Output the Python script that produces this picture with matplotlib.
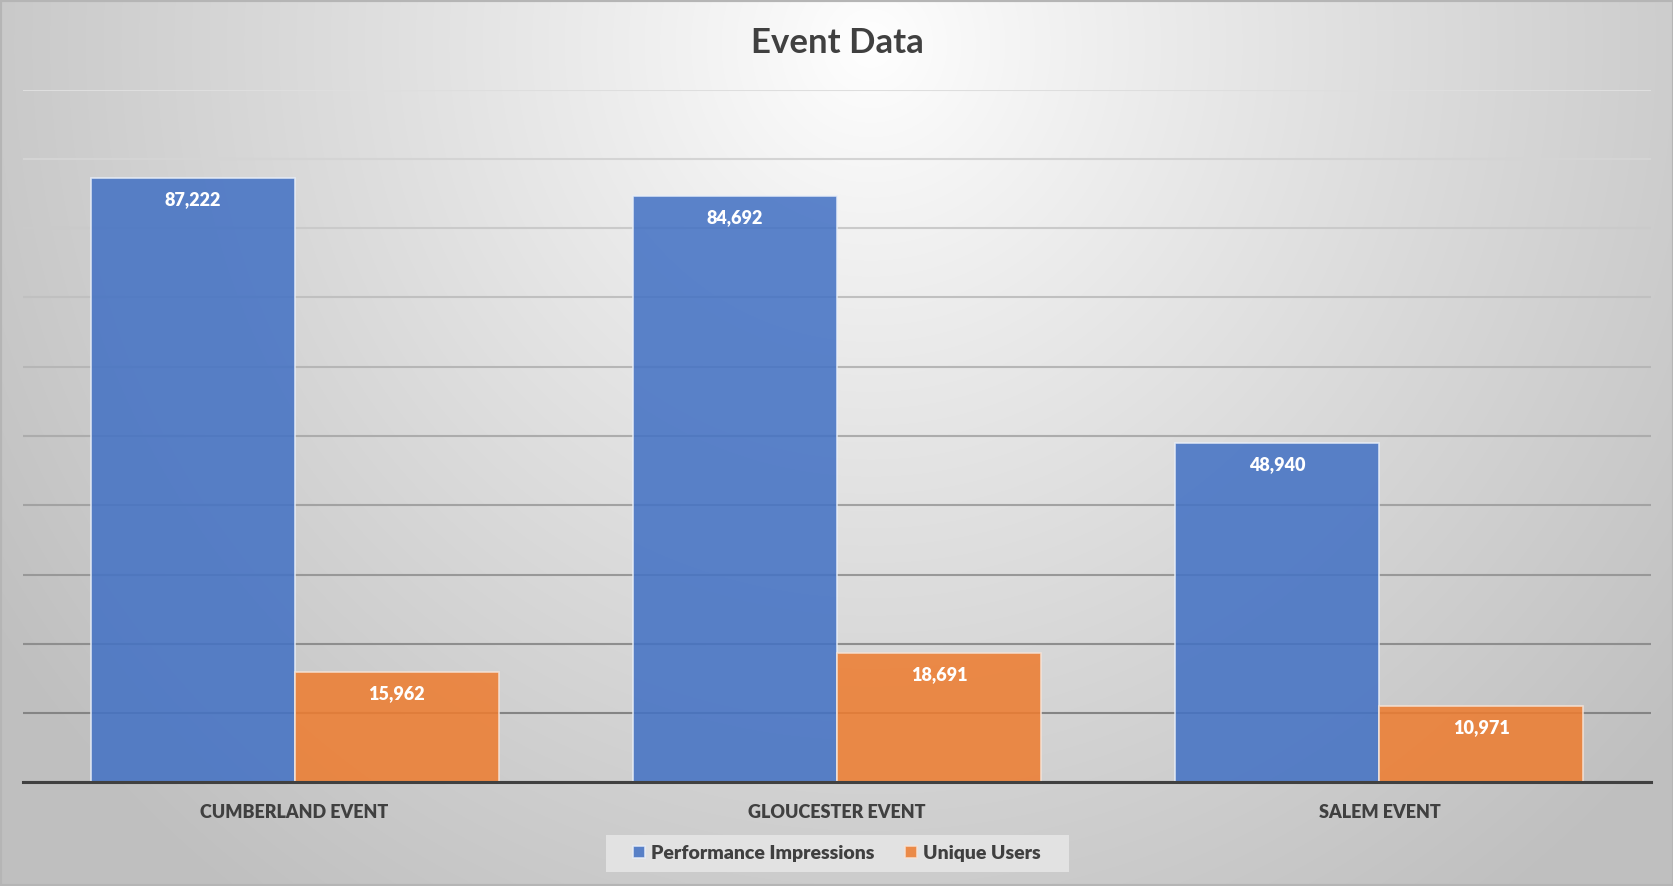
import numpy as np
import matplotlib
matplotlib.use("Agg")
import matplotlib.pyplot as plt
from matplotlib.colors import to_rgb

categories = ["CUMBERLAND EVENT", "GLOUCESTER EVENT", "SALEM EVENT"]
series_names = ["Performance Impressions", "Unique Users"]
impressions = [87222, 84692, 48940]
unique_users = [15962, 18691, 10971]
y_ticks = [0, 10000, 20000, 30000, 40000, 50000, 60000, 70000, 80000, 90000, 100000]

W, H = 1674, 886
fig = plt.figure(figsize=(W / 100, H / 100), dpi=100)
plt.rcParams['font.family'] = ['Lato', 'DejaVu Sans']

# background radial gradient
bg = fig.add_axes([0, 0, 1, 1], zorder=-10)
yy, xx = np.mgrid[0:H, 0:W]
cx, cy = W * 0.52, H * 0.05
d = np.sqrt(((xx - cx) / (W * 0.62)) ** 2 + ((yy - cy) / (H * 1.2)) ** 2)
d = np.clip(d, 0, 1) ** 0.9
c0 = np.array(to_rgb("#ffffff"))
c1 = np.array(to_rgb("#c0c0c0"))
img = c0[None, None, :] * (1 - d[..., None]) + c1[None, None, :] * d[..., None]
bg.imshow(img, aspect='auto', extent=[0, 1, 0, 1], origin='upper')
bg.set_xlim(0, 1); bg.set_ylim(0, 1)
bg.axis('off')
bg.add_patch(plt.Rectangle((0, 0), 1, 1, transform=bg.transAxes, fill=False,
                           edgecolor="#b5b5b5", linewidth=3, zorder=5))
# legend background box
bg.add_patch(plt.Rectangle((0.3622, 0.0157), 0.2761, 0.0422, transform=bg.transAxes,
                           facecolor="#e2e2e2", edgecolor='none', zorder=4))

ax = fig.add_axes([0.014, 0.1169, 0.972, 0.7819])
ax.patch.set_alpha(0)
x = np.arange(len(categories))
bw = 0.376
blue = "#4472C4"
orange = "#ED7D31"
b1 = ax.bar(x - bw / 2, impressions, bw, color=blue, alpha=0.87, edgecolor="#e8eef8",
            linewidth=1.2, label=series_names[0], zorder=3)
b2 = ax.bar(x + bw / 2, unique_users, bw, color=orange, alpha=0.87, edgecolor="#f6e3d6",
            linewidth=1.2, label=series_names[1], zorder=3)

for bars, vals in ((b1, impressions), (b2, unique_users)):
    for rect, v in zip(bars, vals):
        ax.annotate(f"{v:,}", (rect.get_x() + rect.get_width() / 2, v),
                    xytext=(0, -15.5), textcoords='offset points', ha='center', va='center',
                    color='white', fontsize=13, fontweight='heavy', zorder=5)

ax.set_xlim(-0.5, 2.5)
ax.set_ylim(0, 100000)
ax.set_yticks(y_ticks)
ax.yaxis.grid(True, linewidth=1.5, zorder=0)
ax.set_axisbelow(True)
gl = ax.get_ygridlines()
top_c = np.array(to_rgb("#dedede"))
bot_c = np.array(to_rgb("#7a7a7a"))
for i, line in enumerate(gl):
    t = i / (len(gl) - 1)
    line.set_color(tuple(bot_c * (1 - t) + top_c * t))
ax.tick_params(axis='y', left=False, labelleft=False)
ax.tick_params(axis='x', bottom=False, pad=12)
ax.set_xticks(x)
ax.set_xticklabels(categories, fontsize=13, fontweight='heavy', color='#404040')
for s in ('top', 'left', 'right'):
    ax.spines[s].set_visible(False)
ax.spines['bottom'].set_color('#404040')
ax.spines['bottom'].set_linewidth(2.2)
ax.spines['bottom'].set_zorder(6)

fig.text(0.5, 0.951, "Event Data", ha='center', va='center', fontsize=25,
         fontweight='bold', color='#404040')

leg = fig.legend(handles=[b1, b2], loc='center', bbox_to_anchor=(0.5, 0.037),
                 ncol=2, frameon=False, fontsize=14, handlelength=0.6, handleheight=0.6,
                 handletextpad=0.3, columnspacing=1.6, borderpad=0.5)
for t in leg.get_texts():
    t.set_color('#404040')
    t.set_fontweight('heavy')

fig.savefig("out.png", dpi=100)
